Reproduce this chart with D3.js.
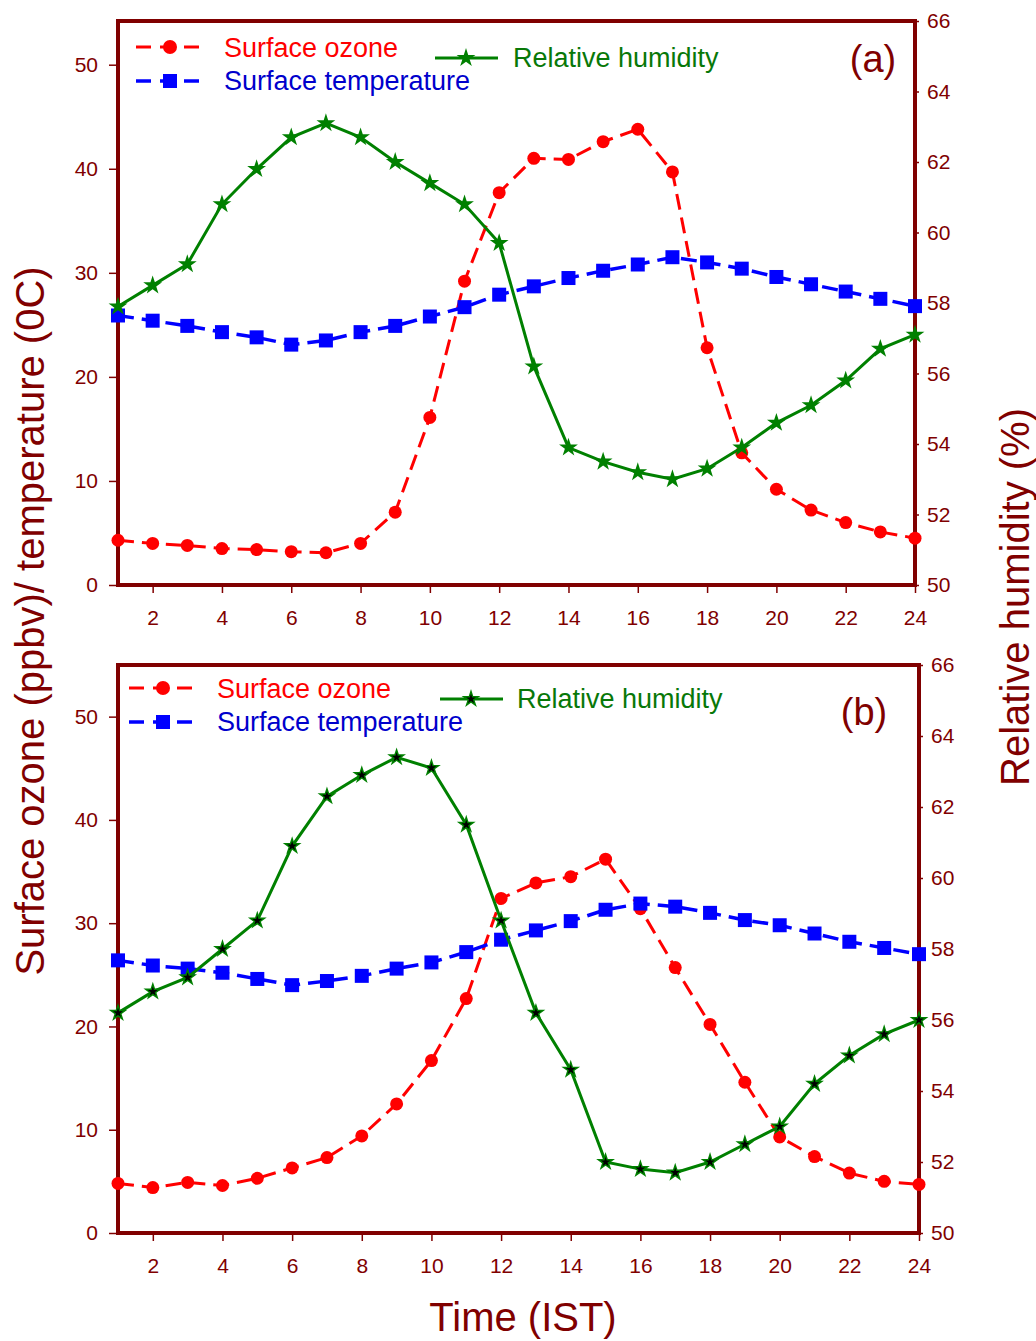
<!DOCTYPE html>
<html>
<head>
<meta charset="utf-8">
<script src="https://cdn.jsdelivr.net/npm/d3@7"></script>
<style>
  body { margin: 0; background: #fff; }
  svg { display: block; }
</style>
</head>
<body>
<div id="chart"></div>
<script>
// Hours of the day (IST)
const hours = d3.range(1, 25);

// Panel (a)
const ozoneA = [4.3, 4.0, 3.8, 3.5, 3.4, 3.2, 3.1, 4.0, 7.0, 16.1, 29.2, 37.7, 41.0, 40.9, 42.6, 43.8,
                39.7, 22.8, 12.7, 9.2, 7.2, 6.0, 5.1, 4.5];
const tempA = [25.9, 25.4, 24.9, 24.3, 23.8, 23.1, 23.5, 24.3, 24.9, 25.8, 26.7, 27.9, 28.7, 29.5, 30.2, 30.8,
               31.5, 31.0, 30.4, 29.6, 28.9, 28.2, 27.5, 26.8];
const rhA = [57.9, 58.5, 59.1, 60.8, 61.8, 62.7, 63.1, 62.7, 62.0, 61.4, 60.8, 59.7, 56.2, 53.9, 53.5, 53.2,
             53.0, 53.3, 53.9, 54.6, 55.1, 55.8, 56.7, 57.1];

// Panel (b)
const ozoneB = [4.8, 4.4, 4.9, 4.6, 5.3, 6.3, 7.3, 9.4, 12.5, 16.7, 22.7, 32.4, 33.9, 34.5, 36.2, 31.4,
                25.7, 20.2, 14.6, 9.3, 7.4, 5.8, 5.0, 4.7];
const tempB = [26.4, 25.9, 25.6, 25.2, 24.6, 24.0, 24.4, 24.9, 25.6, 26.2, 27.2, 28.4, 29.3, 30.2, 31.3, 31.9,
               31.6, 31.0, 30.3, 29.8, 29.0, 28.2, 27.6, 27.0];
const rhB = [56.2, 56.8, 57.2, 58.0, 58.8, 60.9, 62.3, 62.9, 63.4, 63.1, 61.5, 58.8, 56.2, 54.6, 52.0, 51.8,
             51.7, 52.0, 52.5, 53.0, 54.2, 55.0, 55.6, 56.0];

// Axis ticks and labels
const xTicks = d3.range(2, 25, 2);
const leftTicks = [0, 10, 20, 30, 40, 50];
const rightTicks = [50, 52, 54, 56, 58, 60, 62, 64, 66];
const seriesNames = ['Surface ozone', 'Surface temperature', 'Relative humidity'];
const panelLabels = ['(a)', '(b)'];

const axisColor = '#800000';
const font = '"Liberation Sans", Arial, sans-serif';

const svg = d3.select('#chart').append('svg')
    .attr('width', 1036)
    .attr('height', 1341)
    .attr('font-family', font);

const panels = [
    {label: panelLabels[0], ozone: ozoneA, temp: tempA, rh: rhA,
     left: 118, right: 915, top: 21, bottom: 585, leftMax: 54.2, blackStar: false,
     legend: {lx: 136, ly1: 47, ly2: 81, tx: 224, gx: 435, gy: 58, gtx: 513, labX: 873, labY: 72}},
    {label: panelLabels[1], ozone: ozoneB, temp: tempB, rh: rhB,
     left: 118, right: 919, top: 665, bottom: 1233, leftMax: 55.0, blackStar: true,
     legend: {lx: 129, ly1: 688, ly2: 722, tx: 217, gx: 440, gy: 699, gtx: 517, labX: 864, labY: 725}}
];

const star = d3.symbol().type(d3.symbolStar);

function drawPanel(p) {
    const g = svg.append('g');
    const x = d3.scaleLinear().domain([1, 24]).range([p.left, p.right]);
    const yL = d3.scaleLinear().domain([0, p.leftMax]).range([p.bottom, p.top]);
    const yR = d3.scaleLinear().domain([50, 66]).range([p.bottom, p.top]);

    // Axes
    const xAxis = g.append('g')
        .attr('transform', `translate(0,${p.bottom})`)
        .call(d3.axisBottom(x).tickValues(xTicks).tickSize(8).tickPadding(17));
    const lAxis = g.append('g')
        .attr('transform', `translate(${p.left},0)`)
        .call(d3.axisLeft(yL).tickValues(leftTicks).tickSize(9).tickPadding(11));
    const rAxis = g.append('g')
        .attr('transform', `translate(${p.right},0)`)
        .call(d3.axisRight(yR).tickValues(rightTicks).tickSize(4).tickPadding(8));
    [xAxis, lAxis, rAxis].forEach(a => {
        a.select('.domain').remove();
        a.selectAll('line').attr('stroke', axisColor).attr('stroke-width', 1.5);
        a.selectAll('text').attr('fill', axisColor).attr('font-size', 21).attr('font-family', font);
    });

    // Frame
    g.append('rect')
        .attr('x', p.left)
        .attr('y', p.top)
        .attr('width', p.right - p.left)
        .attr('height', p.bottom - p.top)
        .attr('fill', 'none')
        .attr('stroke', axisColor)
        .attr('stroke-width', 4);

    // Ozone
    g.append('path')
        .datum(p.ozone)
        .attr('fill', 'none')
        .attr('stroke', '#ff0000')
        .attr('stroke-width', 3)
        .attr('stroke-dasharray', '16,8')
        .attr('d', d3.line().x((d, i) => x(hours[i])).y(d => yL(d)));
    g.append('g').selectAll('circle')
        .data(p.ozone).enter()
        .append('circle')
        .attr('cx', (d, i) => x(hours[i]))
        .attr('cy', d => yL(d))
        .attr('r', 6.5)
        .attr('fill', '#ff0000');

    // Temperature
    g.append('path')
        .datum(p.temp)
        .attr('fill', 'none')
        .attr('stroke', '#0000ff')
        .attr('stroke-width', 3.5)
        .attr('stroke-dasharray', '16,8')
        .attr('d', d3.line().x((d, i) => x(hours[i])).y(d => yL(d)));
    g.append('g').selectAll('rect')
        .data(p.temp).enter()
        .append('rect')
        .attr('x', (d, i) => x(hours[i]) - 7)
        .attr('y', d => yL(d) - 7)
        .attr('width', 14)
        .attr('height', 14)
        .attr('fill', '#0000ff');

    // Relative humidity
    g.append('path')
        .datum(p.rh)
        .attr('fill', 'none')
        .attr('stroke', '#008000')
        .attr('stroke-width', 3)
        .attr('d', d3.line().x((d, i) => x(hours[i])).y(d => yR(d)));
    const stars = g.append('g').selectAll('g')
        .data(p.rh).enter()
        .append('g')
        .attr('transform', (d, i) => `translate(${x(hours[i])},${yR(d)})`);
    stars.append('path')
        .attr('d', star.size(110)())
        .attr('fill', '#008000');
    if (p.blackStar) {
        stars.append('path')
            .attr('d', star.size(30)())
            .attr('fill', '#000');
    }

    // Legend
    const L = p.legend;
    g.append('line')
        .attr('x1', L.lx).attr('x2', L.lx + 64)
        .attr('y1', L.ly1).attr('y2', L.ly1)
        .attr('stroke', '#ff0000').attr('stroke-width', 3)
        .attr('stroke-dasharray', '15,9');
    g.append('circle')
        .attr('cx', L.lx + 34).attr('cy', L.ly1).attr('r', 7)
        .attr('fill', '#ff0000');
    g.append('line')
        .attr('x1', L.lx).attr('x2', L.lx + 64)
        .attr('y1', L.ly2).attr('y2', L.ly2)
        .attr('stroke', '#0000ff').attr('stroke-width', 3.5)
        .attr('stroke-dasharray', '15,9');
    g.append('rect')
        .attr('x', L.lx + 27).attr('y', L.ly2 - 7)
        .attr('width', 14).attr('height', 14)
        .attr('fill', '#0000ff');
    g.append('line')
        .attr('x1', L.gx).attr('x2', L.gx + 63)
        .attr('y1', L.gy).attr('y2', L.gy)
        .attr('stroke', '#008000').attr('stroke-width', 3);
    g.append('path')
        .attr('transform', `translate(${L.gx + 31},${L.gy})`)
        .attr('d', star.size(110)())
        .attr('fill', '#008000');
    if (p.blackStar) {
        g.append('path')
            .attr('transform', `translate(${L.gx + 31},${L.gy})`)
            .attr('d', star.size(30)())
            .attr('fill', '#000');
    }
    g.append('text')
        .attr('x', L.tx).attr('y', L.ly1 + 10)
        .attr('font-size', 27).attr('fill', '#ff0000')
        .text(seriesNames[0]);
    g.append('text')
        .attr('x', L.tx).attr('y', L.ly2 + 9)
        .attr('font-size', 27).attr('fill', '#0000cc')
        .text(seriesNames[1]);
    g.append('text')
        .attr('x', L.gtx).attr('y', L.gy + 9)
        .attr('font-size', 27).attr('fill', '#087808')
        .text(seriesNames[2]);

    // Panel label
    g.append('text')
        .attr('x', L.labX).attr('y', L.labY)
        .attr('font-size', 38)
        .attr('text-anchor', 'middle')
        .attr('fill', axisColor)
        .text(p.label);
}

panels.forEach(drawPanel);

// Axis titles
svg.append('text')
    .attr('transform', 'translate(44,621) rotate(-90)')
    .attr('text-anchor', 'middle')
    .attr('font-size', 40)
    .attr('fill', axisColor)
    .text('Surface ozone (ppbv)/ temperature (0C)');

svg.append('text')
    .attr('transform', 'translate(1029,597) rotate(-90)')
    .attr('text-anchor', 'middle')
    .attr('font-size', 40)
    .attr('fill', axisColor)
    .text('Relative humidity (%)');

svg.append('text')
    .attr('x', 523)
    .attr('y', 1331)
    .attr('text-anchor', 'middle')
    .attr('font-size', 40)
    .attr('fill', axisColor)
    .text('Time (IST)');
</script>
</body>
</html>
